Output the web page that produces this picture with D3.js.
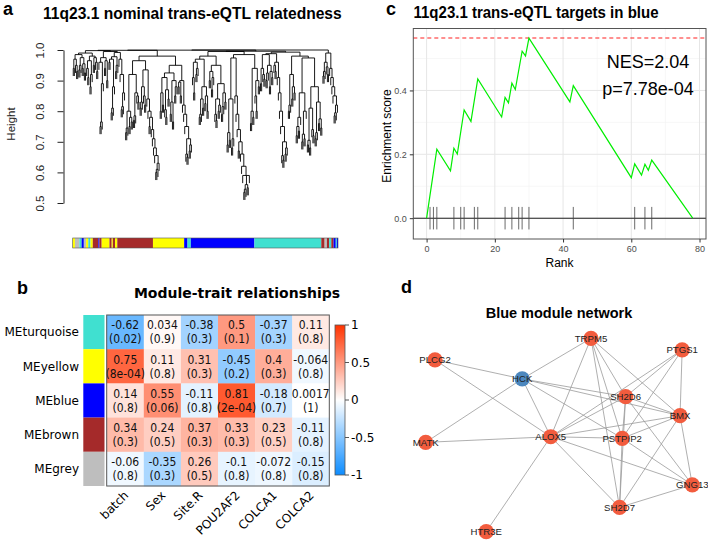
<!DOCTYPE html>
<html>
<head>
<meta charset="utf-8">
<script src="https://cdn.jsdelivr.net/npm/d3@7"></script>
<style>
body { margin: 0; background: #fff; }
svg { display: block; }
</style>
</head>
<body>
<div id="fig"></div>
<script>
// ---------- data ----------

// panel a: gene dendrogram, "(child,child)height" with height in %, x = a leaf
var dendroL1 = "(((((x,x)94,(x,(x,x)93)95)97,(((x,x)93.5,x)95,((x,x)94,(x,x)92.5)95.5)97.5)98.5," +
               "(((x,(x,x)91)94,((x,x)88,x)92)96.5,((x,x)95,(x,(x,x)93)96)97.5)98)99," +
               "(((x,(((x,x)75,x)76.5,x)89)96,((x,x)94,(x,x)90)96.5)97.5," +
               "((((x,x)96,(((x,x)79.5,x)81,x)88)97,((x,x)93,x)95)97.8,(x,(x,(((x,x)80.5,x)81.5,x)86)92)97)99.2)99.5)99.8";
var dendroL2 = "(((((x,x)73,x)74.5,((x,x)75,(x,x)76.5)78)80,(((x,x)77,x)78.5,(x,(x,x)83)85)86)92," +
               "((((x,x)81,x)83,(x,(x,x)82)85)88,(x,(x,((x,x)75,(x,(x,(x,(x,(((x,x)60,x)61,x)63)65.5)68)71)74)78)80)84)93.5)96.5";
var dendroL3 = "(((((x,x)80,(x,x)82)86,((x,(x,x)78)80.5,(x,x)84)87)91,(((x,x)79,(x,x)76.5)83,((x,x)85,x)88)90)92.5," +
               "(((x,x)88,(x,x)85)89.5,(x,(x,(x,((x,(x,x)65)66,((x,x)67,x)69)71)75)79)82)90)95";
var dendroM = "(((((x,(x,x)86)91,((x,x)92,x)94)96,((((x,x)78,x)79,(x,x)81)84,((x,x)82.5,(x,x)80)85)88)97," +
              "(((x,x)90,((x,x)87,x)91)93,(((x,(x,x)77)79,((x,x)80,x)82)84,(((x,x)79,x)81.5,(x,x)83)86)89)95)98," +
              "(((((x,x)69,(x,x)70.5)73,((x,x)68,x)71)84,(x,(x,(x,((x,x)67,(x,(x,(x,(((x,x)53.5,x)54.5,(x,x)55)56,x)59)62)66)70)74)79)85)97.4," +
              "(((x,x)76,(x,x)78)80,((x,(x,x)80)85,(x,x)88)90)94)98.5)99.5";
var dendroR = "(((((x,x)89,(x,(x,x)90.5)92)94,(((x,x)90,x)92.5,((x,x)88,(x,x)91)93)95)98.5," +
              "((x,(x,x)93)95,(x,(x,(x,(x,((x,(x,x)64)65.5,((x,x)66,x)68)70)75)80)86)91)96)98.8," +
              "((((x,x)80,x)82,((x,x)84,(x,x)86)88)92," +
              "(((((x,x)72,(x,x)73.5)75,x)78,(((x,x)70,(x,x)71)72.5,x)80)86,((((x,x)69,(x,x)68)70.5,(x,(x,x)72)74)81,(((x,x)71,x)73,((x,x)76,(x,x)74.5)77.5)83)88)97.4)98)99.3";
var dendroR5 = "((((x,x)91.5,x)93,(x,(x,x)92)94.5)96,(x,(x,(x,(x,(((x,x)78.5,x)79.5,x)82)85)88)91)94)99";
var dendroTree = "(((" + dendroL1 + ",(" + dendroL2 + "," + dendroL3 + ")98)99.9,(" + dendroM + "," + dendroR + ")99.6)99.95," + dendroR5 + ")100";
var leafHang = 0.025;
var heightTicks = [0.5, 0.6, 0.7, 0.8, 0.9, 1.0];

// module colour bar under the dendrogram (runs of leaves)
var barColors = ["yellow","grey","turquoise","blue","grey","yellow","turquoise","yellow","brown","blue","brown","yellow","brown","yellow","brown","yellow","brown","yellow","blue","turquoise","blue","turquoise","brown","grey","brown","turquoise","brown","blue","turquoise","blue"];
var barCounts = [2,4,2,2,2,2,2,2,5,1,2,7,2,1,2,2,32,28,3,3,57,60,3,2,2,2,2,2,1,1];
var rColors = { turquoise: "#40E0D0", yellow: "#FFFF00", blue: "#0000FF", brown: "#A52A2A", grey: "#BEBEBE" };

// panel b: module-trait correlations
var moduleNames = ["MEturquoise", "MEyellow", "MEblue", "MEbrown", "MEgrey"];
var moduleSwatches = ["turquoise", "yellow", "blue", "brown", "grey"];
var traitNames = ["batch", "Sex", "Site.R", "POU2AF2", "COLCA1", "COLCA2"];
var corValues = [
  [-0.62, 0.034, -0.38, 0.5, -0.37, 0.11],
  [0.75, 0.11, 0.31, -0.45, 0.4, -0.064],
  [0.14, 0.55, -0.11, 0.81, -0.18, 0.0017],
  [0.34, 0.24, 0.37, 0.33, 0.23, -0.11],
  [-0.06, -0.35, 0.26, -0.1, -0.072, -0.15]
];
var pValues = [
  ["0.02", "0.9", "0.3", "0.1", "0.3", "0.8"],
  ["8e-04", "0.8", "0.3", "0.2", "0.3", "0.8"],
  ["0.8", "0.06", "0.8", "2e-04", "0.7", "1"],
  ["0.3", "0.5", "0.3", "0.3", "0.5", "0.8"],
  ["0.8", "0.3", "0.5", "0.8", "0.8", "0.8"]
];
var legendTicks = [1, 0.5, 0, -0.5, -1];

// panel c: enrichment curve
var esRank  = [0, 3, 7, 8, 9, 11, 13, 15, 22, 23, 24, 25, 26, 28, 29, 30, 42, 43, 60, 61, 63, 64, 65, 66, 78];
var esScore = [0, 0.216, 0.148, 0.219, 0.201, 0.339, 0.303, 0.436, 0.317, 0.378, 0.361, 0.423, 0.403, 0.523, 0.508, 0.564, 0.364, 0.415, 0.127, 0.170, 0.135, 0.169, 0.150, 0.182, 0];
var hitRanks = [1, 2, 3, 8, 10, 11, 14, 15, 23, 25, 27, 28, 30, 43, 61, 64, 66];
var nesLabel = "NES=2.04", pvalLabel = "p=7.78e-04";

// panel d: blue module network (layout coordinates 0..1)
var geneNames = ["TRPM5", "PTGS1", "PLCG2", "HCK", "SH2D6", "BMX", "MATK", "ALOX5", "PSTPIP2", "GNG13", "SH2D7", "HTR3E"];
var geneX = [0.62, 0.962, 0.035, 0.362, 0.750, 0.954, 0, 0.469, 0.737, 1, 0.727, 0.227];
var geneY = [0, 0.060, 0.112, 0.210, 0.302, 0.400, 0.538, 0.509, 0.517, 0.758, 0.874, 1];
var geneDir = ["up", "up", "up", "down", "up", "up", "up", "up", "up", "up", "up", "up"];
var edges = [
  ["PLCG2","HCK"], ["PLCG2","ALOX5"], ["HCK","TRPM5"], ["HCK","MATK"], ["HCK","ALOX5"], ["HCK","SH2D6"],
  ["HCK","BMX"], ["HCK","PSTPIP2"], ["TRPM5","ALOX5"], ["TRPM5","SH2D6"], ["TRPM5","PSTPIP2"], ["TRPM5","BMX"],
  ["TRPM5","SH2D7"], ["PTGS1","ALOX5"], ["PTGS1","SH2D6"], ["PTGS1","PSTPIP2"], ["PTGS1","BMX"],
  ["SH2D6","ALOX5"], ["SH2D6","PSTPIP2"], ["SH2D6","BMX"], ["SH2D6","GNG13"], ["SH2D6","SH2D7"],
  ["BMX","ALOX5"], ["BMX","PSTPIP2"], ["BMX","GNG13"], ["BMX","SH2D7"],
  ["ALOX5","MATK"], ["ALOX5","HTR3E"], ["ALOX5","PSTPIP2"], ["ALOX5","SH2D7"], ["ALOX5","GNG13"],
  ["PSTPIP2","SH2D7"], ["PSTPIP2","GNG13"], ["GNG13","SH2D7"]
];

// ---------- drawing ----------
var helv = "'Liberation Sans', Arial, Helvetica, sans-serif";
var deja = "'DejaVu Sans', sans-serif";

var svg = d3.select("#fig").append("svg")
    .attr("width", 708)
    .attr("height", 541)
    .style("background", "#fff");

// panel letters
[["a", 3, 15], ["b", 17, 294], ["c", 386, 15], ["d", 401, 293]].forEach(function(l) {
  svg.append("text").attr("x", l[1]).attr("y", l[2]).text(l[0])
    .style("font-family", helv).style("font-weight", "bold").style("font-size", "18px");
});

// ===== panel a =====
function parseTree(str) {
  var i = 0;
  function readNode() {
    if (str[i] === "(") {
      i++;
      var kids = [];
      for (;;) {
        kids.push(readNode());
        if (str[i] === ",") { i++; continue; }
        i++;
        break;
      }
      var j = i;
      while (i < str.length && /[0-9.]/.test(str[i])) i++;
      return { height: +str.slice(j, i) / 100, children: kids };
    }
    i++;
    return { height: null };
  }
  return readNode();
}

var root = d3.hierarchy(parseTree(dendroTree));
var leaves = root.leaves();
leaves.forEach(function(d, k) { d.pos = k; });
root.eachAfter(function(d) {
  if (d.children) d.pos = (d.children[0].pos + d.children[d.children.length - 1].pos) / 2;
});

var xLeaf = d3.scaleLinear().domain([-0.5, leaves.length - 0.5]).range([72.7, 338]);
var yH = d3.scaleLinear().domain([0.5, 1.0]).range([203, 50]);

var gA = svg.append("g");
var p = d3.path();
root.each(function(d) {
  if (!d.children) return;
  var h = d.data.height;
  p.moveTo(xLeaf(d.children[0].pos), yH(h));
  p.lineTo(xLeaf(d.children[d.children.length - 1].pos), yH(h));
  d.children.forEach(function(c) {
    var bottom = c.children ? c.data.height : h - leafHang;
    p.moveTo(xLeaf(c.pos), yH(h));
    p.lineTo(xLeaf(c.pos), yH(bottom));
  });
});
gA.append("path").attr("d", p.toString())
  .attr("fill", "none").attr("stroke", "#000").attr("stroke-width", 0.9);

var axA = gA.append("g").attr("transform", "translate(63.5,0)")
  .call(d3.axisLeft(yH).tickValues(heightTicks).tickFormat(d3.format(".1f")).tickSize(6).tickSizeOuter(0));
axA.select(".domain").attr("stroke", "#222");
axA.selectAll("line").attr("stroke", "#222");
axA.selectAll("text")
  .attr("x", null).attr("dy", null)
  .attr("transform", "translate(-20,0) rotate(-90)")
  .attr("text-anchor", "middle")
  .style("font-family", helv).style("font-size", "11.5px").attr("fill", "#222");

gA.append("text").attr("transform", "translate(15,124) rotate(-90)")
  .attr("text-anchor", "middle").text("Height")
  .style("font-family", helv).style("font-size", "11.5px").attr("fill", "#222");

gA.append("text").attr("x", 43).attr("y", 18.5)
  .text("11q23.1 nominal trans-eQTL relatedness")
  .style("font-family", helv).style("font-weight", "bold").style("font-size", "15.6px");

// module colour bar
var runStart = 0;
barColors.forEach(function(c, k) {
  gA.append("rect")
    .attr("x", xLeaf(runStart - 0.5))
    .attr("y", 238)
    .attr("width", xLeaf(runStart + barCounts[k] - 0.5) - xLeaf(runStart - 0.5))
    .attr("height", 10)
    .attr("fill", rColors[c]);
  runStart += barCounts[k];
});
gA.append("rect").attr("x", xLeaf(-0.5)).attr("y", 238)
  .attr("width", xLeaf(leaves.length - 0.5) - xLeaf(-0.5)).attr("height", 10)
  .attr("fill", "none").attr("stroke", "#555").attr("stroke-width", 0.6);

// ===== panel b =====
var gB = svg.append("g");
var corColor = d3.scaleLinear().domain([-1, 0, 1]).range(["#0D8CFF", "#FFFFFF", "#FF3300"]);
var hmX = d3.scaleBand().domain(traitNames).range([106.7, 329.3]);
var hmY = d3.scaleBand().domain(moduleNames).range([315, 486]);

gB.append("text").attr("x", 237).attr("y", 298).attr("text-anchor", "middle")
  .text("Module-trait relationships")
  .style("font-family", deja).style("font-weight", "bold").style("font-size", "14px");

moduleNames.forEach(function(m, i) {
  gB.append("rect").attr("x", 83.3).attr("y", hmY(m)).attr("width", 21.2).attr("height", hmY.bandwidth())
    .attr("fill", rColors[moduleSwatches[i]]);
  gB.append("text").attr("x", 79).attr("y", hmY(m) + hmY.bandwidth() / 2).attr("dy", "0.36em")
    .attr("text-anchor", "end").text(m)
    .style("font-family", deja).style("font-size", "12px");
  traitNames.forEach(function(t, j) {
    gB.append("rect").attr("x", hmX(t)).attr("y", hmY(m))
      .attr("width", hmX.bandwidth() + 0.3).attr("height", hmY.bandwidth() + 0.3)
      .attr("fill", corColor(corValues[i][j]));
  });
});
moduleNames.forEach(function(m, i) {
  traitNames.forEach(function(t, j) {
    var cx = hmX(t) + hmX.bandwidth() / 2;
    var cell = gB.append("text").attr("text-anchor", "middle")
      .style("font-family", "'DejaVu Sans Condensed', 'DejaVu Sans', sans-serif")
      .style("font-stretch", "condensed").style("font-size", "12px").attr("fill", "#111");
    cell.append("tspan").attr("x", cx).attr("y", hmY(m) + 14.3).text(String(corValues[i][j]));
    cell.append("tspan").attr("x", cx).attr("y", hmY(m) + 28.3).text("(" + pValues[i][j] + ")");
  });
});
gB.append("rect").attr("x", 106.7).attr("y", 315).attr("width", 222.6).attr("height", 171)
  .attr("fill", "none").attr("stroke", "#555").attr("stroke-width", 1);

traitNames.forEach(function(t) {
  var cx = hmX(t) + hmX.bandwidth() / 2;
  gB.append("text").attr("transform", "translate(" + (cx + 4) + ",496) rotate(-45)")
    .attr("text-anchor", "end").text(t)
    .style("font-family", deja).style("font-size", "12px");
});

// colour legend
var cbY = d3.scaleLinear().domain([-1, 1]).range([475, 325]);
var grad = svg.append("defs").append("linearGradient").attr("id", "corGrad")
  .attr("x1", 0).attr("y1", 1).attr("x2", 0).attr("y2", 0);
d3.range(-1, 1.001, 0.1).forEach(function(v) {
  grad.append("stop").attr("offset", (v + 1) / 2).attr("stop-color", corColor(v));
});
gB.append("rect").attr("x", 335).attr("y", 325).attr("width", 10).attr("height", 150)
  .attr("fill", "url(#corGrad)").attr("stroke", "#555").attr("stroke-width", 0.8);
legendTicks.forEach(function(v) {
  gB.append("line").attr("x1", 345).attr("x2", 349).attr("y1", cbY(v)).attr("y2", cbY(v))
    .attr("stroke", "#555");
  gB.append("text").attr("x", 351).attr("y", cbY(v)).attr("dy", "0.36em").text(String(v))
    .style("font-family", deja).style("font-size", "12px");
});

// ===== panel c =====
var gC = svg.append("g");
var tickHalf = d3.max(esScore) / 16;
var xPad = 0.05 * (d3.max(esRank) - d3.min(esRank));
var yLo = -tickHalf, yHi = d3.max(esScore);
var yPad = 0.05 * (yHi - yLo);
var cX = d3.scaleLinear().domain([d3.min(esRank) - xPad, d3.max(esRank) + xPad]).range([413.3, 706]);
var cY = d3.scaleLinear().domain([yLo - yPad, yHi + yPad]).range([239, 28.5]);

gC.append("rect").attr("x", 413.3).attr("y", 28.5).attr("width", 706 - 413.3).attr("height", 239 - 28.5)
  .attr("fill", "#fff");
[10, 30, 50, 70].forEach(function(v) {
  gC.append("line").attr("x1", cX(v)).attr("x2", cX(v)).attr("y1", 28.5).attr("y2", 239)
    .attr("stroke", "#f2f2f2").attr("stroke-width", 0.6);
});
[0.1, 0.3, 0.5].forEach(function(v) {
  gC.append("line").attr("x1", 413.3).attr("x2", 706).attr("y1", cY(v)).attr("y2", cY(v))
    .attr("stroke", "#f2f2f2").attr("stroke-width", 0.6);
});
[0, 20, 40, 60, 80].forEach(function(v) {
  gC.append("line").attr("x1", cX(v)).attr("x2", cX(v)).attr("y1", 28.5).attr("y2", 239)
    .attr("stroke", "#e6e6e6").attr("stroke-width", 1);
});
[0, 0.2, 0.4].forEach(function(v) {
  gC.append("line").attr("x1", 413.3).attr("x2", 706).attr("y1", cY(v)).attr("y2", cY(v))
    .attr("stroke", "#e6e6e6").attr("stroke-width", 1);
});

gC.append("line").attr("x1", 413.3).attr("x2", 706).attr("y1", cY(yHi)).attr("y2", cY(yHi))
  .attr("stroke", "#ff2020").attr("stroke-width", 1.1).attr("stroke-dasharray", "4,3");
gC.append("line").attr("x1", 413.3).attr("x2", 706).attr("y1", cY(0)).attr("y2", cY(0))
  .attr("stroke", "#222").attr("stroke-width", 1.1);

gC.selectAll(".hit").data(hitRanks).enter().append("line")
  .attr("x1", function(d) { return cX(d); }).attr("x2", function(d) { return cX(d); })
  .attr("y1", cY(-tickHalf)).attr("y2", cY(tickHalf))
  .attr("stroke", "#444").attr("stroke-width", 0.8);

gC.append("path")
  .datum(esRank.map(function(r, k) { return [r, esScore[k]]; }))
  .attr("d", d3.line().x(function(d) { return cX(d[0]); }).y(function(d) { return cY(d[1]); }))
  .attr("fill", "none").attr("stroke", "#00ee00").attr("stroke-width", 1.2);

gC.append("rect").attr("x", 413.3).attr("y", 28.5).attr("width", 706 - 413.3).attr("height", 239 - 28.5)
  .attr("fill", "none").attr("stroke", "#555").attr("stroke-width", 1);

var axCx = gC.append("g").attr("transform", "translate(0,239)")
  .call(d3.axisBottom(cX).tickValues([0, 20, 40, 60, 80]).tickSize(3.5).tickSizeOuter(0));
var axCy = gC.append("g").attr("transform", "translate(413.3,0)")
  .call(d3.axisLeft(cY).tickValues([0, 0.2, 0.4]).tickFormat(d3.format(".1f")).tickSize(3.5).tickSizeOuter(0));
[axCx, axCy].forEach(function(ax) {
  ax.select(".domain").remove();
  ax.selectAll("line").attr("stroke", "#333");
  ax.selectAll("text").attr("fill", "#4d4d4d").style("font-family", helv).style("font-size", "9px");
});
axCx.selectAll("text").attr("y", 7);

gC.append("text").attr("x", 559.5).attr("y", 267).attr("text-anchor", "middle").text("Rank")
  .style("font-family", helv).style("font-size", "12px");
gC.append("text").attr("transform", "translate(390.5,136) rotate(-90)").attr("text-anchor", "middle")
  .text("Enrichment score").style("font-family", helv).style("font-size", "12px");
gC.append("text").attr("x", 413.5).attr("y", 18).text("11q23.1 trans-eQTL targets in blue")
  .attr("textLength", 245).attr("lengthAdjust", "spacingAndGlyphs")
  .style("font-family", helv).style("font-weight", "bold").style("font-size", "15.6px");
gC.append("text").attr("x", 648).attr("y", 67.5).attr("text-anchor", "middle").text(nesLabel)
  .style("font-family", helv).style("font-size", "18px");
gC.append("text").attr("x", 648).attr("y", 95).attr("text-anchor", "middle").text(pvalLabel)
  .style("font-family", helv).style("font-size", "18px");

// ===== panel d =====
var gD = svg.append("g");
var nX = d3.scaleLinear().domain([0, 1]).range([425.7, 692.3]);
var nY = d3.scaleLinear().domain([0, 1]).range([338.3, 531.7]);
var nodeFill = d3.scaleOrdinal().domain(["up", "down"]).range(["#F25C3E", "#4C87BE"]);
var idx = {};
geneNames.forEach(function(g, k) { idx[g] = k; });

gD.append("text").attr("x", 559).attr("y", 318).attr("text-anchor", "middle").text("Blue module network")
  .style("font-family", helv).style("font-weight", "bold").style("font-size", "14.5px");

gD.selectAll(".edge").data(edges).enter().append("line")
  .attr("x1", function(e) { return nX(geneX[idx[e[0]]]); })
  .attr("y1", function(e) { return nY(geneY[idx[e[0]]]); })
  .attr("x2", function(e) { return nX(geneX[idx[e[1]]]); })
  .attr("y2", function(e) { return nY(geneY[idx[e[1]]]); })
  .attr("stroke", "#9a9a9a").attr("stroke-width", 0.8);

var nodes = gD.selectAll(".node").data(geneNames).enter().append("g")
  .attr("transform", function(g, k) { return "translate(" + nX(geneX[k]) + "," + nY(geneY[k]) + ")"; });
nodes.append("circle").attr("r", 7.6).attr("fill", function(g, k) { return nodeFill(geneDir[k]); });
nodes.append("text").attr("text-anchor", "middle").attr("dy", "0.35em").text(function(g) { return g; })
  .style("font-family", helv).style("font-size", "9.6px").attr("fill", "#222");
</script>
</body>
</html>
